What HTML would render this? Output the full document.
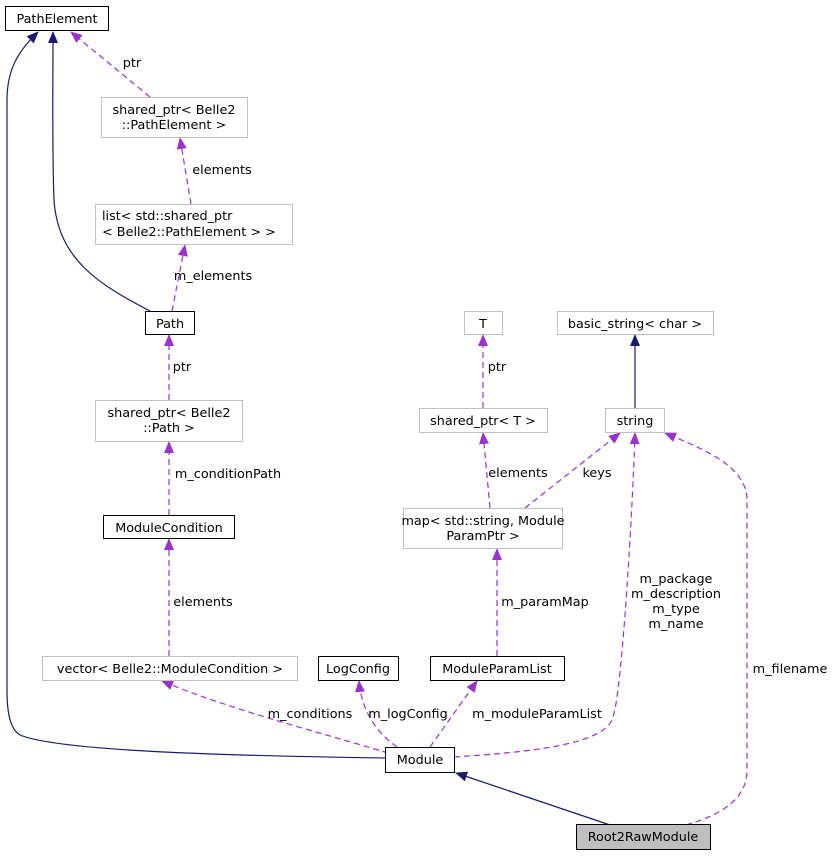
<!DOCTYPE html>
<html><head><meta charset="utf-8">
<style>
html,body{margin:0;padding:0;background:#fff;}
svg text{font-family:"DejaVu Sans","Liberation Sans",sans-serif;font-size:12.8px;fill:#000;}
</style></head>
<body>
<svg width="836" height="856" viewBox="0 0 836 856" xmlns="http://www.w3.org/2000/svg">
<defs>
<marker id="ap" markerWidth="12" markerHeight="10" refX="11" refY="5" orient="auto" markerUnits="userSpaceOnUse"><path d="M0,0 L12,5 L0,10 z" fill="#9a32cd"/></marker>
<marker id="an" markerWidth="12" markerHeight="10" refX="11" refY="5" orient="auto" markerUnits="userSpaceOnUse"><path d="M0,0 L12,5 L0,10 z" fill="#191970"/></marker>
</defs>
<g fill="none" stroke-width="1.2">
<path d="M385,758 C250,756 60,752 20,735 C8,728 7,705 7,690 L7,100 C7,65 22,48 38,32" stroke="#191970" marker-end="url(#an)"/>
<path d="M150,311 C100,285 58,260 54,200 C52,150 53,80 53,32" stroke="#191970" marker-end="url(#an)"/>
<path d="M610,825 L456,773" stroke="#191970" marker-end="url(#an)"/>
<path d="M635,408 L635,335" stroke="#191970" marker-end="url(#an)"/>
<g stroke="#9a32cd" stroke-dasharray="6,4">
<path d="M150,97 L71,32" marker-end="url(#ap)"/>
<path d="M191,204 L180,138" marker-end="url(#ap)"/>
<path d="M172,311 L185,245" marker-end="url(#ap)"/>
<path d="M169,400 L169,335" marker-end="url(#ap)"/>
<path d="M169,515 L169,442" marker-end="url(#ap)"/>
<path d="M169,656 L169,539" marker-end="url(#ap)"/>
<path d="M398,756 C330,735 230,710 162,681" marker-end="url(#ap)"/>
<path d="M397,747 C380,735 362,715 359,681" marker-end="url(#ap)"/>
<path d="M430,747 L477,681" marker-end="url(#ap)"/>
<path d="M454,757 C530,752 600,745 612,720 C622,700 633,500 635,433" marker-end="url(#ap)"/>
<path d="M686,825 C720,815 747,800 747,770 L747,500 C747,465 700,448 665,433" marker-end="url(#ap)"/>
<path d="M490,508 L483,433" marker-end="url(#ap)"/>
<path d="M525,508 L620,433" marker-end="url(#ap)"/>
<path d="M497,656 L497,549" marker-end="url(#ap)"/>
<path d="M483,408 L483,335" marker-end="url(#ap)"/>
</g>
</g>
<g stroke-width="1">
<rect x="5.5" y="6.5" width="103" height="24" fill="#fff" stroke="#000"/>
<rect x="101.5" y="97.5" width="146" height="40" fill="#fff" stroke="#bfbfbf"/>
<rect x="95.5" y="204.5" width="197" height="40" fill="#fff" stroke="#bfbfbf"/>
<rect x="145.5" y="311.5" width="49" height="23" fill="#fff" stroke="#000"/>
<rect x="95.5" y="400.5" width="147" height="41" fill="#fff" stroke="#bfbfbf"/>
<rect x="103.5" y="515.5" width="131" height="23" fill="#fff" stroke="#000"/>
<rect x="42.5" y="656.5" width="255" height="24" fill="#fff" stroke="#bfbfbf"/>
<rect x="318.5" y="656.5" width="80" height="24" fill="#fff" stroke="#000"/>
<rect x="430.5" y="656.5" width="134" height="24" fill="#fff" stroke="#000"/>
<rect x="385.5" y="747.5" width="69" height="25" fill="#fff" stroke="#000"/>
<rect x="576.5" y="824.5" width="134" height="25" fill="#bfbfbf" stroke="#000"/>
<rect x="464.5" y="311.5" width="38" height="23" fill="#fff" stroke="#bfbfbf"/>
<rect x="557.5" y="311.5" width="156" height="23" fill="#fff" stroke="#bfbfbf"/>
<rect x="605.5" y="408.5" width="59" height="24" fill="#fff" stroke="#bfbfbf"/>
<rect x="419.5" y="408.5" width="128" height="24" fill="#fff" stroke="#bfbfbf"/>
<rect x="403.5" y="508.5" width="159" height="40" fill="#fff" stroke="#bfbfbf"/>
</g>
<g text-anchor="middle">
<text x="57" y="23">PathElement</text>
<text x="174" y="114">shared_ptr&lt; Belle2</text>
<text x="174" y="129">::PathElement &gt;</text>
<text x="170" y="328">Path</text>
<text x="169" y="417">shared_ptr&lt; Belle2</text>
<text x="169" y="432">::Path &gt;</text>
<text x="169" y="532">ModuleCondition</text>
<text x="170" y="673">vector&lt; Belle2::ModuleCondition &gt;</text>
<text x="358" y="673">LogConfig</text>
<text x="497" y="673">ModuleParamList</text>
<text x="420" y="764">Module</text>
<text x="643" y="841">Root2RawModule</text>
<text x="483" y="328">T</text>
<text x="635" y="328">basic_string&lt; char &gt;</text>
<text x="635" y="425">string</text>
<text x="483" y="425">shared_ptr&lt; T &gt;</text>
<text x="483" y="525">map&lt; std::string, Module</text>
<text x="483" y="540">ParamPtr &gt;</text>
<text x="132" y="67">ptr</text>
<text x="222" y="174">elements</text>
<text x="213" y="280">m_elements</text>
<text x="182" y="371">ptr</text>
<text x="228" y="478">m_conditionPath</text>
<text x="203" y="606">elements</text>
<text x="310" y="718">m_conditions</text>
<text x="408" y="718">m_logConfig</text>
<text x="537" y="718">m_moduleParamList</text>
<text x="676" y="583">m_package</text>
<text x="676" y="598">m_description</text>
<text x="676" y="613">m_type</text>
<text x="676" y="628">m_name</text>
<text x="790" y="673">m_filename</text>
<text x="518" y="477">elements</text>
<text x="597" y="477">keys</text>
<text x="545" y="606">m_paramMap</text>
<text x="497" y="371">ptr</text>
</g>
<g>
<text x="102" y="220">list&lt; std::shared_ptr</text>
<text x="102" y="236">&lt; Belle2::PathElement &gt; &gt;</text>
</g>
</svg>
</body></html>
